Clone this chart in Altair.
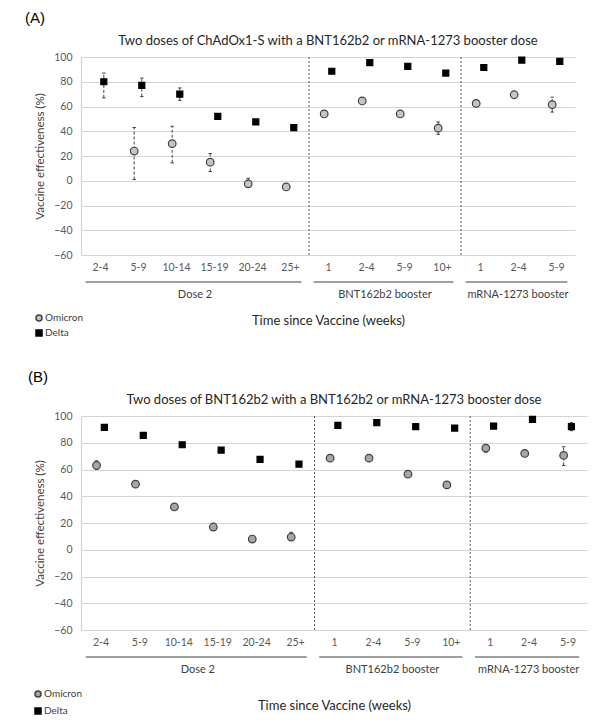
import json
import altair as alt
import pandas as pd

categories = ["2-4", "5-9", "10-14", "15-19", "20-24", "25+", "1", "2-4", "5-9", "10+", "1", "2-4", "5-9"]
group_names = ["Dose 2", "BNT162b2 booster", "mRNA-1273 booster"]
group_start = [0, 6, 10]
group_end = [6, 10, 13]
separators = [6, 10]
series_names = ["Omicron", "Delta"]

# Panel A: two doses of ChAdOx1-S
a_omicron = [None, 24, 30, 15, -2.5, -5, 54, 64.5, 54, 42.5, 62.5, 69.5, 61.5]
a_omicron_lo = [None, 1, 14.5, 7.5, -4, None, None, None, None, 37.5, None, None, 55.5]
a_omicron_hi = [None, 43, 44, 22, 2, None, None, None, None, 47.5, None, None, 67.5]
a_delta = [80, 77, 70, 52, 47.5, 43, 88.5, 95.5, 92.5, 87, 91.5, 97.5, 96.5]
a_delta_lo = [67, 68, 65, None, None, None, None, None, None, None, None, None, None]
a_delta_hi = [87, 83, 75, None, None, None, None, None, None, None, None, None, None]

# Panel B: two doses of BNT162b2
b_omicron = [63, 49, 32, 17, 8, 9.5, 68.5, 68.5, 56.5, 48.5, 76, 72, 70.5]
b_omicron_lo = [60, 46.5, None, None, None, 7.5, None, None, None, None, 73, 70, 63]
b_omicron_hi = [66.5, 51, None, None, None, 13, None, None, None, None, 78, 73.5, 77]
b_delta = [91.5, 85.5, 78.5, 74.5, 67.5, 64, 93, 95, 92, 91, 92.5, 97.5, 92]
b_delta_lo = [None, None, None, None, None, None, None, None, None, None, None, None, 89]
b_delta_hi = [None, None, None, None, None, None, None, None, None, None, None, None, 95]

FONT = "Lato"


def long_table(om, om_lo, om_hi, de, de_lo, de_hi):
    rows = []
    for i, c in enumerate(categories):
        for s, v, lo, hi in (("Omicron", om[i], om_lo[i], om_hi[i]), ("Delta", de[i], de_lo[i], de_hi[i])):
            rows.append({"idx": i, "cat": c, "series": s, "value": v, "lo": lo, "hi": hi})
    return pd.DataFrame(rows)


groups_df = pd.DataFrame({"name": group_names, "start": group_start, "end": group_end})
sep_df = pd.DataFrame({"pos": separators})
legend_df = pd.DataFrame({"series": series_names})
label_expr = json.dumps(categories) + "[floor(datum.value)]"
y_ticks = list(range(-60, 101, 20))
x_ticks = [i + 0.5 for i in range(len(categories))]


def panel(df, width, height, title, tag, tag_x, omicron_fill, leg_x, leg_y, leg_step, xtitle_pad):
    xscale = alt.Scale(domain=[0, len(categories)], nice=False, zero=False)
    yscale = alt.Scale(domain=[-60, 100], nice=False)
    xaxis = alt.Axis(
        values=x_ticks, tickCount=len(x_ticks), labelExpr=label_expr,
        grid=False, domain=False, ticks=False, labelAngle=0, labelFont=FONT,
        labelFontSize=10.5, labelColor="#595959", labelPadding=7, labelOverlap=False,
        title="Time since Vaccine (weeks)", titleFont=FONT, titleFontSize=13,
        titleFontWeight="normal", titleColor="#262626", titlePadding=xtitle_pad,
    )
    yaxis = alt.Axis(
        values=y_ticks, tickCount=len(y_ticks), grid=True, gridColor="#d4d4d4", gridWidth=1.2,
        domain=True, domainColor="#d4d4d4", domainWidth=1.2, ticks=False, labelOverlap=False,
        labelFont=FONT, labelFontSize=10.5, labelColor="#595959", labelPadding=9,
        title="Vaccine effectiveness (%)", titleFont=FONT, titleFontSize=11.5,
        titleFontWeight="normal", titleColor="#404040", titlePadding=8,
    )
    shape_enc = alt.Shape("series:N", scale=alt.Scale(domain=series_names, range=["circle", "square"]), legend=None)
    fill_enc = alt.Fill("series:N", scale=alt.Scale(domain=series_names, range=[omicron_fill, "#000000"]), legend=None)
    stroke_enc = alt.Stroke("series:N", scale=alt.Scale(domain=series_names, range=["#404040", "#000000"]), legend=None)
    size_enc = alt.Size("series:N", scale=alt.Scale(domain=series_names, range=[58, 36]), legend=None)

    base = alt.Chart(df).transform_calculate(
        xpos="datum.idx + 0.5 + (datum.series == 'Omicron' ? -0.1 : 0.1)"
    ).transform_calculate(
        xl="datum.xpos - 0.045", xr="datum.xpos + 0.045"
    )
    x = alt.X("xpos:Q", scale=xscale, axis=xaxis)
    y = alt.Y("value:Q", scale=yscale, axis=yaxis)

    ci = base.transform_filter("isValid(datum.lo)")
    bars = ci.mark_rule(color="#404040", strokeWidth=1, strokeDash=[3, 2]).encode(
        x=x, y=alt.Y("lo:Q", scale=yscale, axis=yaxis), y2="hi:Q"
    )
    cap_lo = ci.mark_rule(color="#404040", strokeWidth=1).encode(x="xl:Q", x2="xr:Q", y="lo:Q")
    cap_hi = ci.mark_rule(color="#404040", strokeWidth=1).encode(x="xl:Q", x2="xr:Q", y="hi:Q")

    pts = base.transform_filter("isValid(datum.value)").mark_point(filled=True, strokeWidth=1.2, opacity=1).encode(
        x=x, y=y, shape=shape_enc, fill=fill_enc, stroke=stroke_enc, size=size_enc,
    )

    seps = alt.Chart(sep_df).mark_rule(color="#595959", strokeWidth=1, strokeDash=[2, 2]).encode(
        x=alt.X("pos:Q", scale=xscale), y=alt.value(0), y2=alt.value(height)
    )
    glines = alt.Chart(groups_df).transform_calculate(
        s="datum.start + 0.12", e="datum.end - 0.2"
    ).mark_rule(color="#7f7f7f", strokeWidth=1.3).encode(
        x=alt.X("s:Q", scale=xscale), x2="e:Q", y=alt.value(height + 27)
    )
    glabels = alt.Chart(groups_df).transform_calculate(
        m="(datum.start + datum.end) / 2"
    ).mark_text(font=FONT, fontSize=11, color="#404040", baseline="middle").encode(
        x=alt.X("m:Q", scale=xscale), y=alt.value(height + 40), text="name:N"
    )
    heading = alt.Chart(pd.DataFrame({"tag": [tag], "title": [title]}))
    tag_mark = heading.mark_text(
        font="Liberation Sans", fontSize=15, color="#000000", align="left", baseline="middle"
    ).encode(x=alt.value(tag_x), y=alt.value(-39), text="tag:N")
    title_mark = heading.mark_text(
        font=FONT, fontSize=13, color="#262626", align="center", baseline="middle"
    ).encode(x=alt.value(width / 2), y=alt.value(-16), text="title:N")

    # legend entries (one row per series)
    legend_layers = []
    for k, s in enumerate(series_names):
        ld = alt.Chart(legend_df).transform_filter(alt.datum.series == s)
        legend_layers.append(ld.mark_point(filled=True, strokeWidth=1.5, opacity=1).encode(
            x=alt.value(leg_x), y=alt.value(leg_y + k * leg_step),
            shape=shape_enc, fill=fill_enc, stroke=stroke_enc, size=alt.value(36)))
        legend_layers.append(ld.mark_text(
            font=FONT, fontSize=10, color="#404040", align="left", baseline="middle"
        ).encode(x=alt.value(leg_x + 6), y=alt.value(leg_y + k * leg_step), text="series:N"))

    return alt.layer(seps, bars, cap_lo, cap_hi, pts, glines, glabels, tag_mark, title_mark,
                     *legend_layers).properties(width=width, height=height)


df_a = long_table(a_omicron, a_omicron_lo, a_omicron_hi, a_delta, a_delta_lo, a_delta_hi)
df_b = long_table(b_omicron, b_omicron_lo, b_omicron_hi, b_delta, b_delta_lo, b_delta_hi)

pa = panel(df_a, 494, 198, "Two doses of ChAdOx1-S with a BNT162b2 or mRNA-1273 booster dose", "(A)", -56,
           "#c4c4c4", -42, 198 + 63, 15, 42)
pb = panel(df_b, 506, 214, "Two doses of BNT162b2 with a BNT162b2 or mRNA-1273 booster dose", "(B)", -53,
           "#a6a6a6", -43, 214 + 64, 17, 52)

chart = alt.vconcat(pa, pb, spacing=31).resolve_scale(
    fill="independent", stroke="independent", shape="independent", size="independent"
).properties(
    padding={"left": 17, "top": 3, "right": 2, "bottom": 2}
).configure_view(stroke=None)

chart.save("out.html", embed_options={"renderer": "svg", "actions": False})
